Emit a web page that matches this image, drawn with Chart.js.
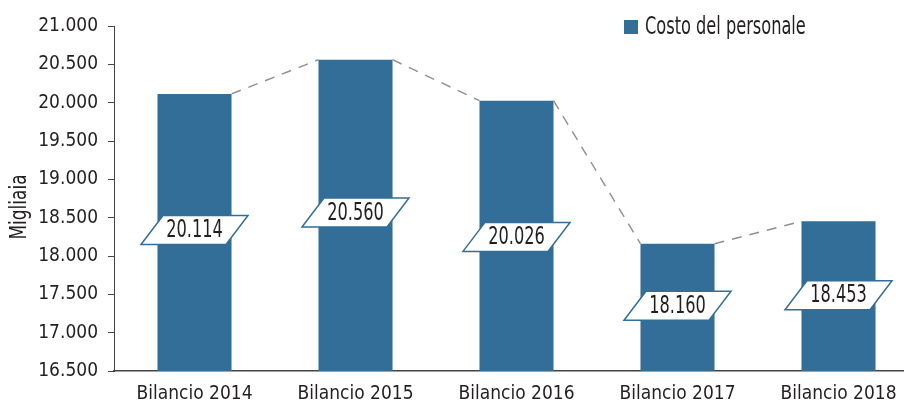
<!DOCTYPE html>
<html>
<head>
<meta charset="utf-8">
<script src="https://cdn.jsdelivr.net/npm/chart.js@4"></script>
<style>
  html, body { margin: 0; padding: 0; background: #fff; overflow: hidden; }
  #wrap { width: 920px; height: 411px; }
</style>
</head>
<body>
<div id="wrap"><canvas id="graficoCosto"></canvas></div>
<script>
const categorie = ['Bilancio 2014', 'Bilancio 2015', 'Bilancio 2016', 'Bilancio 2017', 'Bilancio 2018'];
const costoPersonale = [20114, 20560, 20026, 18160, 18453];
// where the value boxes sit on the axis
const etichettaA = [18340, 18568, 18249, 17352, 17488];
const yMin = 16500, yMax = 21000, yStep = 500;
const titoloY = 'Migliaia';

const FONT = "'Liberation Sans Narrow', 'DejaVu Sans Condensed', 'Arial Narrow', sans-serif";
const BLU = '#336e98';
const TESTO = '#231f20';
const fmt = v => v.toLocaleString('it-IT');

// narrow text: draw a taller font squeezed horizontally
function testoStretto(ctx, txt, x, y, align, sx) {
  ctx.save();
  ctx.translate(x, y);
  ctx.scale(sx, 1);
  ctx.textAlign = align;
  ctx.fillText(txt, 0, 0);
  ctx.restore();
}

const extra = {
  id: 'extra',
  afterDatasetsDraw(chart) {
    const ctx = chart.ctx;
    const bars = chart.getDatasetMeta(0).data;
    const y = chart.scales.y;

    // linea tratteggiata tra i vertici delle barre
    ctx.save();
    ctx.strokeStyle = '#8f8f8f';
    ctx.lineWidth = 1.4;
    ctx.setLineDash([10, 8]);
    for (let i = 0; i < bars.length - 1; i++) {
      const a = bars[i], b = bars[i + 1];
      ctx.beginPath();
      ctx.moveTo(a.x + a.width / 2, a.y);
      ctx.lineTo(b.x - b.width / 2, b.y);
      ctx.stroke();
    }
    ctx.restore();

    // etichette a parallelogramma
    ctx.save();
    ctx.font = '24px ' + FONT;
    ctx.textBaseline = 'middle';
    bars.forEach((bar, i) => {
      const cx = bar.x, cy = y.getPixelForValue(etichettaA[i]);
      const w = 85, h = 29, sk = 22;
      ctx.beginPath();
      ctx.moveTo(cx - w / 2 - sk / 2, cy + h / 2);
      ctx.lineTo(cx - w / 2 + sk / 2, cy - h / 2);
      ctx.lineTo(cx + w / 2 + sk / 2, cy - h / 2);
      ctx.lineTo(cx + w / 2 - sk / 2, cy + h / 2);
      ctx.closePath();
      ctx.fillStyle = '#fff';
      ctx.fill();
      ctx.strokeStyle = BLU;
      ctx.lineWidth = 1.5;
      ctx.stroke();
      ctx.fillStyle = TESTO;
      testoStretto(ctx, fmt(costoPersonale[i]), cx, cy + 1, 'center', 0.75);
    });

    // legenda
    const ds = chart.data.datasets[0];
    ctx.fillStyle = BLU;
    ctx.fillRect(624, 20, 14, 14);
    ctx.fillStyle = TESTO;
    testoStretto(ctx, ds.label, 645, 28, 'left', 0.75);

    // titolo asse y
    ctx.font = '23px ' + FONT;
    ctx.translate(20, 207);
    ctx.rotate(-Math.PI / 2);
    testoStretto(ctx, titoloY, 0, 0, 'center', 0.82);
    ctx.restore();
  }
};

new Chart(document.getElementById('graficoCosto'), {
  type: 'bar',
  data: {
    labels: categorie,
    datasets: [{
      label: 'Costo del personale',
      data: costoPersonale,
      backgroundColor: BLU,
      borderWidth: 0,
      barPercentage: 0.46,
      categoryPercentage: 1
    }]
  },
  options: {
    responsive: true,
    maintainAspectRatio: false,
    animation: false,
    layout: { padding: { top: 26, right: 1, left: 0, bottom: 7 } },
    plugins: {
      legend: { display: false },
      tooltip: { enabled: false }
    },
    scales: {
      y: {
        min: yMin,
        max: yMax,
        ticks: {
          stepSize: yStep,
          color: TESTO,
          padding: 10,
          font: { family: FONT, size: 19 },
          callback: v => fmt(v)
        },
        grid: { drawOnChartArea: false, tickLength: 6, color: '#444', lineWidth: 1 },
        border: { display: true, color: '#444', width: 1 },
        afterFit: s => { s.width = 114; }
      },
      x: {
        ticks: {
          color: TESTO,
          padding: 12,
          font: { family: FONT, size: 19 }
        },
        grid: { display: false, drawTicks: false, tickLength: 0 },
        border: { display: true, color: '#444', width: 1.5 },
        afterFit: s => { s.height = 33; }
      }
    }
  },
  plugins: [extra]
});
</script>
</body>
</html>
